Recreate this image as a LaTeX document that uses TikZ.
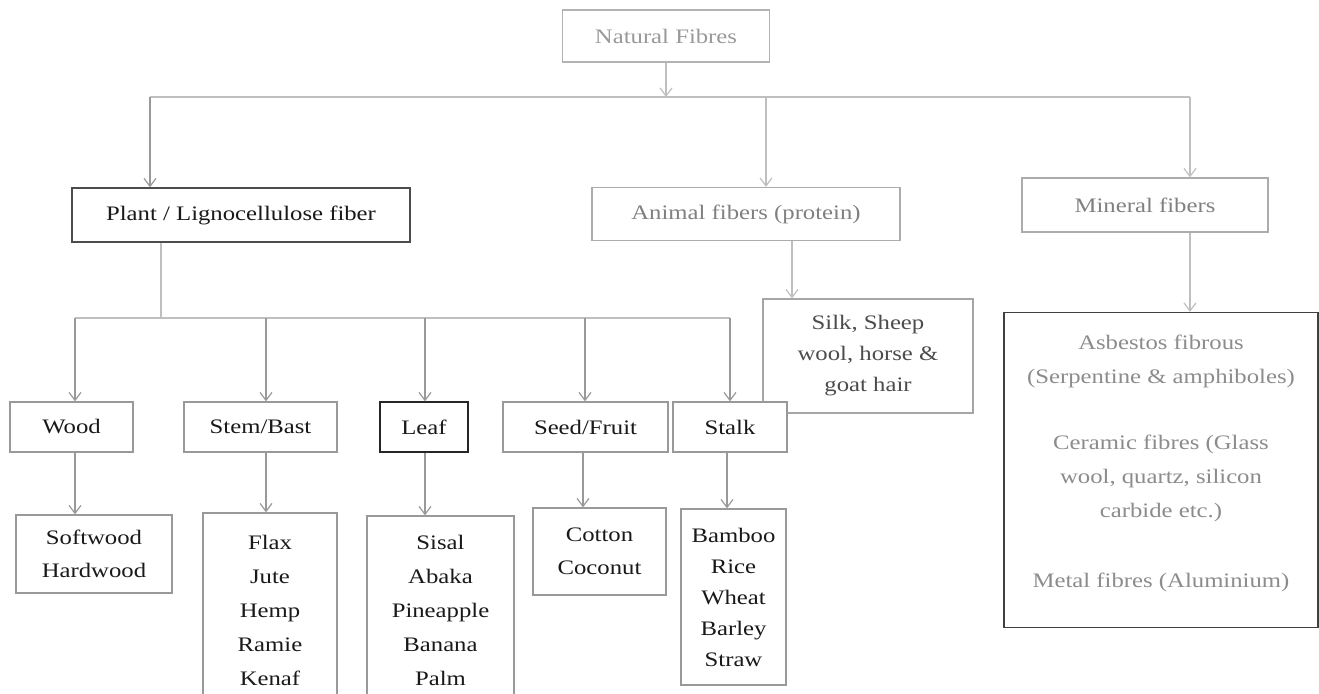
\documentclass[tikz,border=0pt]{standalone}
\usepackage{fontspec}
\setmainfont{Liberation Serif}[FakeStretch=1.2]
\usetikzlibrary{arrows.meta}

\begin{document}
\begin{tikzpicture}[x=0.5pt, y=-0.5pt, >={Straight Barb[length=4pt,width=6pt]},
    box/.style={draw=gray!80, line width=0.6pt, fill=white, inner sep=0pt, align=center,
      font=\fontsize{10.3}{16}\selectfont, text=black!90},
    wire/.style={draw=gray!80, line width=0.6pt},
    faint/.style={draw=gray!50, line width=0.6pt}]
    \clip (0,0) rectangle (1319,694);
    \fill[white] (0,0) rectangle (1319,694);

    % --- Top level ---
    \node[box, draw=gray!60, text=black!40, minimum width=103.5pt, minimum height=26pt] (nat) at (666,36) {Natural Fibres};
    \node[box, draw=black!70, minimum width=169pt, minimum height=27pt] (plant) at (241,215) {Plant / Lignocellulose fiber};
    \node[box, draw=gray!65, text=black!50, minimum width=154pt, minimum height=26.5pt] (animal) at (746,214) {Animal fibers (protein)};
    \node[box, draw=gray!65, text=black!50, minimum width=123pt, minimum height=27pt] (mineral) at (1145,205) {Mineral fibers};

    % Bus under Natural Fibres
    \coordinate (top) at (666,97);
    \coordinate (busL) at (150,97);
    \coordinate (busM) at (766,97);
    \coordinate (busR) at (1190,97);
    \draw[faint, ->] (nat) -- (top);
    \draw[faint] (busL) -- (busR);
    \draw[wire, ->] (busL) -- (busL |- plant.north);
    \draw[faint, ->] (busM) -- (busM |- animal.north);
    \draw[faint, ->] (busR) -- (busR |- mineral.north);

    % --- Animal and mineral branches ---
    \node[box, draw=gray!70, text=black!70, font=\fontsize{10.3}{15.5}\selectfont, minimum width=105pt, minimum height=57pt] (silk) at (868,356) {Silk, Sheep\\wool, horse \&\\goat hair};
    \draw[faint, ->] (792,0 |- animal.south) -- (792,0 |- silk.north);

    \node[box, draw=black!75, text=black!45, font=\fontsize{10.3}{17}\selectfont, minimum width=157pt, minimum height=157.5pt] (minlist) at (1161,470)
      {Asbestos fibrous\\(Serpentine \& amphiboles)\\[16pt]Ceramic fibres (Glass\\wool, quartz, silicon\\carbide etc.)\\[18pt]Metal fibres (Aluminium)\\[-8pt]\mbox{}};
    \draw[faint, ->] (1190,0 |- mineral.south) -- (1190,0 |- minlist.north);

    % --- Plant sub-types ---
    \node[box, minimum width=61.5pt, minimum height=25pt] (wood) at (71.5,427) {Wood};
    \node[box, minimum width=76.5pt, minimum height=25pt] (stem) at (260.5,427) {Stem/Bast};
    \node[box, draw=black!85, minimum width=44pt, minimum height=25pt] (leaf) at (424,427) {Leaf};
    \node[box, minimum width=82.5pt, minimum height=25pt] (seed) at (585.5,427) {Seed/Fruit};
    \node[box, minimum width=57pt, minimum height=25pt] (stalk) at (730,427) {Stalk};

    \coordinate (pbus) at (161,318);
    \draw[faint] (plant.south -| pbus) -- (pbus);
    \draw[faint] (75,318) -- (730,318);
    \foreach \x/\n in {75/wood, 266/stem, 425/leaf, 585/seed, 730/stalk}
      \draw[wire, ->] (\x,318) -- (\x,0 |- \n.north);

    % --- Fibre lists ---
    \node[box, font=\fontsize{10.3}{16.5}\selectfont, minimum width=78pt, minimum height=39pt] (soft) at (94,554) {Softwood\\Hardwood};
    \node[box, font=\fontsize{10.3}{17}\selectfont, minimum width=67pt, minimum height=97pt] (flax) at (270,610) {Flax\\Jute\\Hemp\\Ramie\\Kenaf};
    \node[box, font=\fontsize{10.3}{17}\selectfont, minimum width=73.5pt, minimum height=94pt] (sisal) at (440.5,610) {Sisal\\Abaka\\Pineapple\\Banana\\Palm};
    \node[box, font=\fontsize{10.3}{16.5}\selectfont, minimum width=66.5pt, minimum height=43.5pt] (cotton) at (599.5,551.5) {Cotton\\Coconut};
    \node[box, font=\fontsize{10.3}{15.5}\selectfont, minimum width=52.5pt, minimum height=88pt] (bamboo) at (733.5,597) {Bamboo\\Rice\\Wheat\\Barley\\Straw};

    \foreach \x/\a/\b in {75/wood/soft, 266/stem/flax, 425/leaf/sisal, 583/seed/cotton, 727/stalk/bamboo}
      \draw[wire, ->] (\x,0 |- \a.south) -- (\x,0 |- \b.north);
\end{tikzpicture}
\end{document}
